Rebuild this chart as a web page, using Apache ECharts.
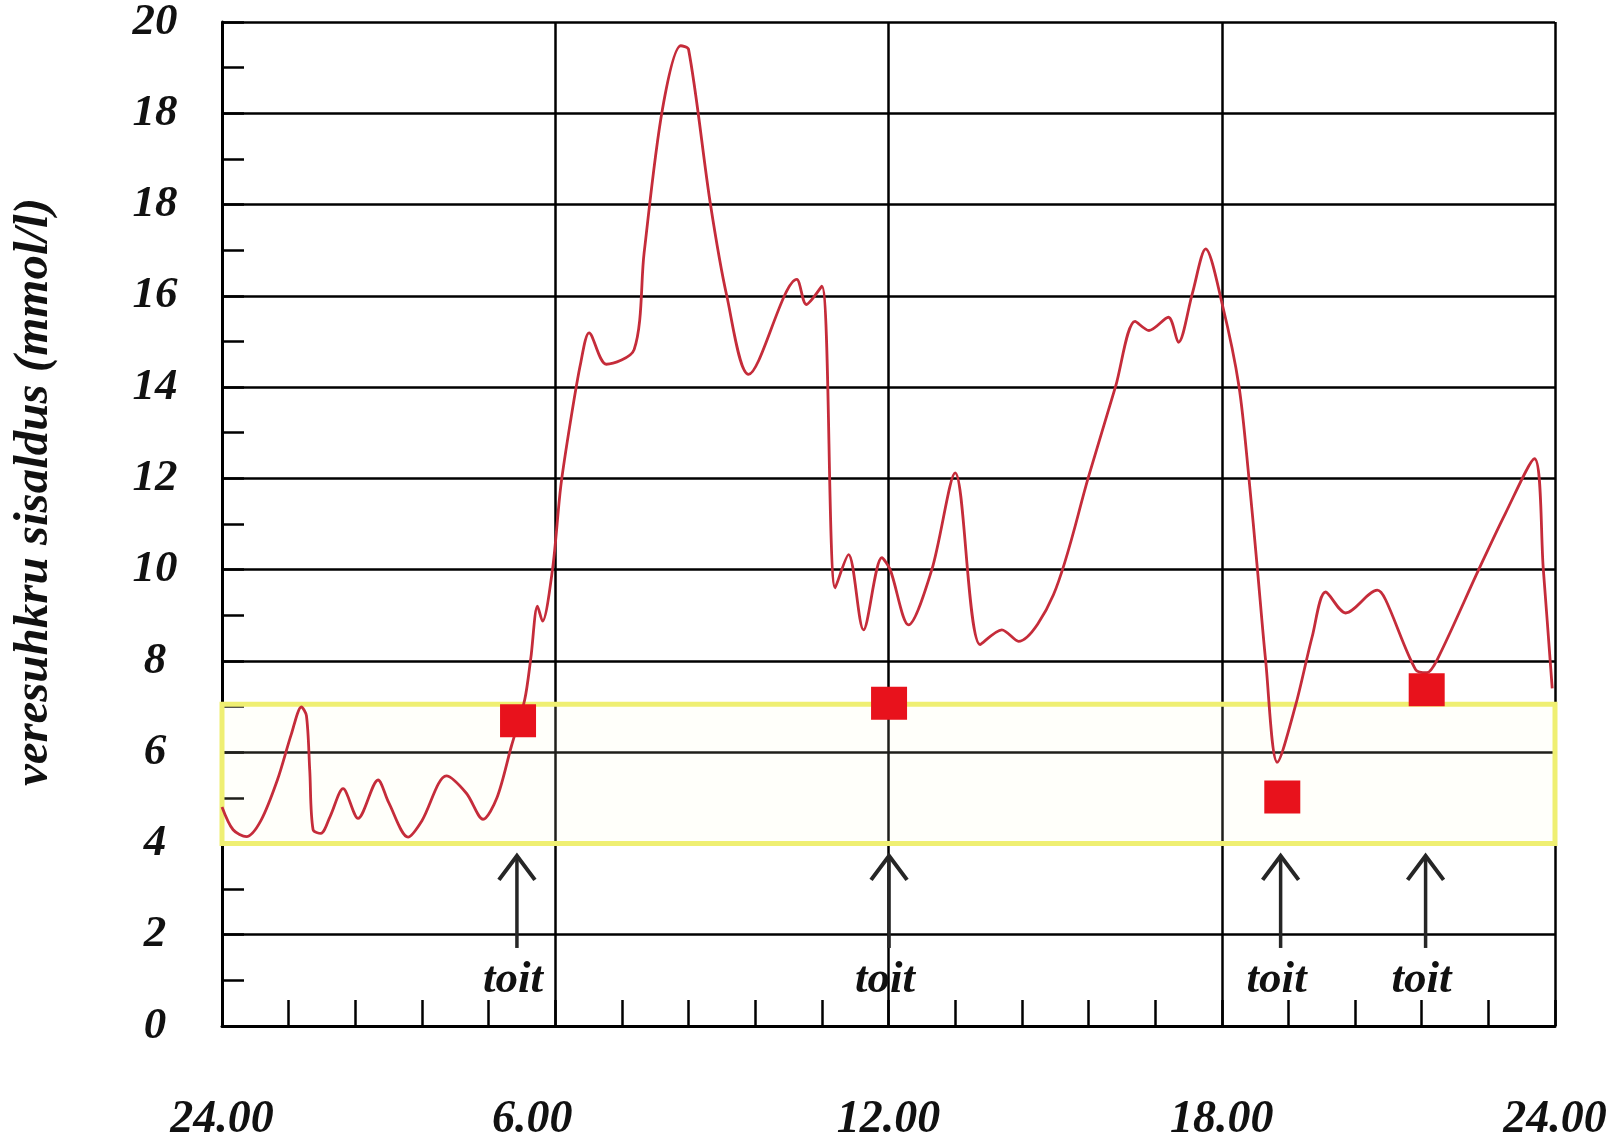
<!DOCTYPE html>
<html>
<head>
<meta charset="utf-8">
<script src="https://cdn.jsdelivr.net/npm/echarts@6/dist/echarts.min.js"></script>
<style>
html,body{margin:0;padding:0;background:#fff;}
#chart{width:1621px;height:1141px;}
</style>
</head>
<body>
<div id="chart"></div>
<script>
// ---- data ----
const hours = [0,0.2,0.44,0.7,1.0,1.25,1.43,1.52,1.58,1.64,1.78,1.95,2.18,2.45,2.81,3.0,3.35,3.6,4.04,4.4,4.70,4.95,5.21,5.45,5.56,5.68,5.77,5.95,6.10,6.28,6.46,6.61,6.92,7.42,7.60,7.93,8.26,8.40,8.79,9.09,9.48,10.35,10.52,10.80,11.04,11.28,11.55,11.88,12.03,12.36,12.78,13.20,13.65,14.04,14.34,14.97,15.61,16.09,16.44,16.69,17.04,17.22,17.47,17.71,18.01,18.31,18.49,18.64,18.79,19.0,19.33,19.63,19.87,20.23,20.80,20.95,21.49,21.69,21.88,22.63,23.11,23.63,23.79,23.95];
const glucose = [4.8,4.3,4.15,4.5,5.4,6.4,6.99,6.8,5.6,4.3,4.22,4.6,5.2,4.55,5.39,4.9,4.14,4.5,5.48,5.1,4.53,5.0,6.13,7.15,8.06,9.2,8.87,10.0,11.83,13.29,14.54,15.19,14.5,14.82,16.94,20.09,21.48,21.4,18.04,15.99,14.28,16.36,15.81,16.21,9.6,10.33,8.68,10.26,10.0,8.79,10.0,12.12,8.36,8.68,8.43,9.45,12.07,14.02,15.44,15.24,15.53,14.98,16.05,17.03,15.81,14.02,12.0,10.04,8.01,5.78,7.03,8.54,9.51,9.05,9.55,9.34,7.81,7.74,8.03,10.01,11.24,12.43,10.0,7.4];

const mealHours = [5.33, 12.01, 19.09, 21.69];
const mealValues = [6.69, 7.07, 5.02, 7.37];

const arrowHours = [5.31, 12.01, 19.06, 21.67];
const arrowTip = 3.75;
const arrowTail = 1.71;
const arrowLabelLevel = 0.99;
const arrowLabel = 'toit';

const targetLow = 4;
const targetHigh = 7.05;

const xTickLabels = ['24.00','6.00','12.00','18.00','24.00'];
const yTickLabels = ['0','2','4','6','8','10','12','14','16','18','18','20'];
const yTitle = 'veresuhkru sisaldus (mmol/l)';

// ---- chart ----
const FONT = 'Liberation Serif';
const chart = echarts.init(document.getElementById('chart'), null, {renderer:'canvas'});
const lineData = hours.map((h,i)=>[h, glucose[i]]);
const mealData = mealHours.map((h,i)=>[h, mealValues[i]]);
const arrowData = arrowHours.map(h=>[h, arrowTip, arrowTail, arrowLabelLevel]);

const labelFont = {fontSize:46, fontFamily:FONT, fontWeight:'bold', fontStyle:'italic', color:'#111'};

const option = {
  animation:false,
  backgroundColor:'#fff',
  grid:{left:222, right:66, top:22, bottom:115, containLabel:false, outerBoundsMode:'none'},
  xAxis:{
    type:'value', min:0, max:24, interval:6,
    axisLine:{show:true, onZero:false, lineStyle:{color:'#000', width:3}},
    axisTick:{show:true, inside:true, length:26, lineStyle:{color:'#000', width:2.5}},
    minorTick:{show:true, splitNumber:5, length:26, lineStyle:{color:'#000', width:2.5}},
    splitLine:{show:true, lineStyle:{color:'#000', width:2.5}},
    axisLabel:Object.assign({
      margin:71,
      formatter:(v)=>{
        const i=Math.round(v/6);
        const t = xTickLabels[i]!==undefined?xTickLabels[i]:'';
        return i===1 ? '{s|'+t+'}' : '{n|'+t+'}';
      },
      rich:{
        n:Object.assign({}, labelFont),
        s:Object.assign({padding:[0,46,0,0]}, labelFont)
      }
    }, labelFont)
  },
  yAxis:{
    type:'value', min:0, max:22, interval:2,
    name:yTitle, nameLocation:'middle', nameRotate:90, nameGap:163,
    nameTextStyle:{fontSize:49, fontFamily:FONT, fontWeight:'bold', fontStyle:'italic', color:'#111', padding:[0,0,0,64]},
    axisLine:{show:true, onZero:false, lineStyle:{color:'#000', width:3}},
    axisTick:{show:true, inside:true, length:22, lineStyle:{color:'#000', width:2.5}},
    minorTick:{show:true, splitNumber:2, length:22, lineStyle:{color:'#000', width:2.5}},
    splitLine:{show:true, lineStyle:{color:'#000', width:2.5}},
    axisLabel:{
      margin:67, align:'center', fontSize:45, fontFamily:FONT, fontWeight:'bold', fontStyle:'italic', color:'#111',
      formatter:(v)=>{const i=Math.round(v/2); return yTickLabels[i]!==undefined?yTickLabels[i]:'';}
    }
  },
  series:[
    {
      type:'line', data:lineData, symbol:'none', smooth:0.3, z:3,
      lineStyle:{color:'#c52c3a', width:2.8},
      markArea:{
        silent:true, z:1,
        itemStyle:{color:'rgba(255,255,215,0.12)', borderColor:'#efef72', borderWidth:5},
        data:[[{xAxis:0, yAxis:targetLow},{xAxis:24, yAxis:targetHigh}]]
      }
    },
    {
      type:'scatter', data:mealData, symbol:'rect', symbolSize:[36,33], z:5,
      itemStyle:{color:'#e8121c', opacity:1}
    },
    {
      type:'custom', data:arrowData, z:4,
      encode:{x:0, y:1},
      renderItem:(params, api)=>{
        const h = api.value(0);
        const pTip = api.coord([h, api.value(1)]);
        const pTail = api.coord([h, api.value(2)]);
        const pLab = api.coord([h, api.value(3)]);
        return {type:'group', children:[
          {type:'line', shape:{x1:pTail[0], y1:pTail[1], x2:pTip[0], y2:pTip[1]+2}, style:{stroke:'#262626', lineWidth:3.5}},
          {type:'polyline', shape:{points:[[pTip[0]-18,pTip[1]+25],[pTip[0],pTip[1]+1],[pTip[0]+18,pTip[1]+25]]}, style:{stroke:'#262626', lineWidth:4, fill:null}},
          {type:'text', x:pLab[0]-4, y:pLab[1], style:{text:arrowLabel, align:'center', verticalAlign:'middle', fontSize:45, fontFamily:FONT, fontWeight:'bold', fontStyle:'italic', fill:'#111'}}
        ]};
      }
    }
  ]
};
chart.setOption(option);
</script>
</body>
</html>
